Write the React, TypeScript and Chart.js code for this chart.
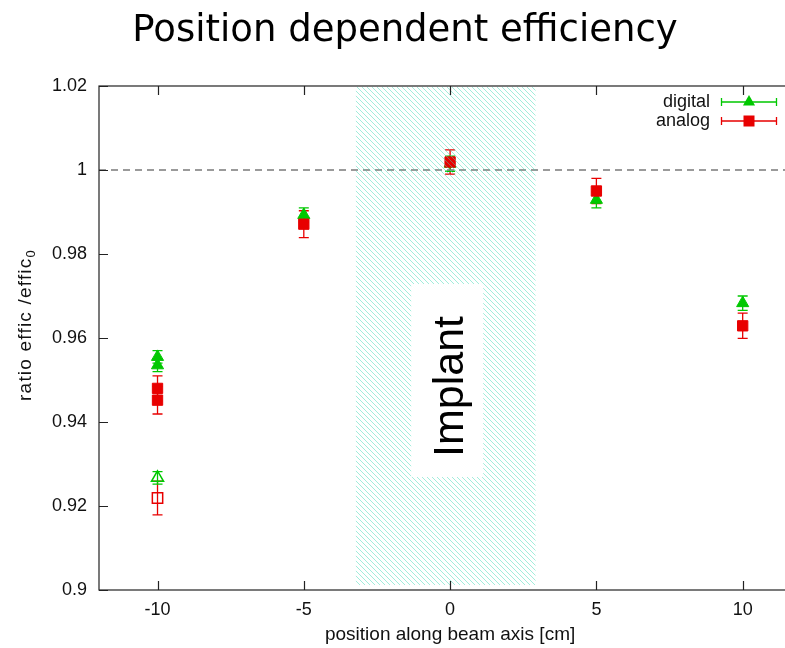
import React, { useEffect, useRef } from 'react';
import { Chart, registerables } from 'chart.js';

Chart.register(...registerables);

// ---- data ----
const xTickValues = [-10, -5, 0, 5, 10];
const yTickValues = [0.9, 0.92, 0.94, 0.96, 0.98, 1.0, 1.02];
const yTickLabels = ['0.9', '0.92', '0.94', '0.96', '0.98', '1', '1.02'];

const digitalX = [-10, -10, -5, 0, 5, 10];
const digitalY = [0.9555, 0.9535, 0.9893, 1.0015, 0.9929, 0.9683];
const digitalErr = [0.0015, 0.0015, 0.0017, 0.0018, 0.0019, 0.0017];

const digitalOpenX = [-10];
const digitalOpenY = [0.9267];
const digitalOpenErr = [0.0015];

const analogX = [-10, -10, -5, 0, 5, 10];
const analogY = [0.948, 0.9452, 0.9871, 1.0019, 0.995, 0.9629];
const analogErr = [0.003, 0.0033, 0.0032, 0.0029, 0.003, 0.003];

const analogOpenX = [-10];
const analogOpenY = [0.9219];
const analogOpenErr = [0.004];

const referenceLevel = 1.0;
const implantFrom = -3.22;
const implantTo = 2.92;

const titleText = 'Position dependent efficiency';
const xTitle = 'position along beam axis [cm]';
const yTitleMain = 'ratio effic /effic';
const yTitleSub = '0';
const implantLabel = 'Implant';
const legendDigital = 'digital';
const legendAnalog = 'analog';

const RED = '#e80000';
const GREEN = '#00c800';
const SANS = '"Liberation Sans", Arial, Helvetica, sans-serif';

const pts = (xs: number[], ys: number[]) => xs.map((x, i) => ({ x, y: ys[i] }));

function makeHatch(): CanvasPattern | string {
  const c = document.createElement('canvas');
  c.width = 5;
  c.height = 5;
  const g = c.getContext('2d');
  if (!g) return 'rgba(60,210,170,0.3)';
  g.strokeStyle = 'rgba(60,218,180,0.48)';
  g.lineWidth = 1;
  g.beginPath();
  g.moveTo(-1, -1);
  g.lineTo(6, 6);
  g.moveTo(-1, 4);
  g.lineTo(1, 6);
  g.moveTo(4, -1);
  g.lineTo(6, 1);
  g.stroke();
  const p = g.createPattern(c, 'repeat');
  return p || 'rgba(60,210,170,0.3)';
}

function drawTriangle(ctx: CanvasRenderingContext2D, x: number, y: number, r: number) {
  ctx.beginPath();
  ctx.moveTo(x, y - r);
  ctx.lineTo(x + r * 0.866, y + r * 0.5);
  ctx.lineTo(x - r * 0.866, y + r * 0.5);
  ctx.closePath();
  ctx.fill();
}

const errorBarPlugin = {
  id: 'errorBars',
  beforeDatasetsDraw(chart: any) {
    const { ctx } = chart;
    const xs = chart.scales.x;
    const ys = chart.scales.y;
    const series = [
      { x: analogX, y: analogY, e: analogErr, c: RED },
      { x: analogOpenX, y: analogOpenY, e: analogOpenErr, c: RED },
      { x: digitalX, y: digitalY, e: digitalErr, c: GREEN },
      { x: digitalOpenX, y: digitalOpenY, e: digitalOpenErr, c: GREEN },
    ];
    ctx.save();
    ctx.lineWidth = 1.3;
    series.forEach((s) => {
      ctx.strokeStyle = s.c;
      s.x.forEach((xv, i) => {
        const px = xs.getPixelForValue(xv);
        const top = ys.getPixelForValue(s.y[i] + s.e[i]);
        const bot = ys.getPixelForValue(s.y[i] - s.e[i]);
        ctx.beginPath();
        ctx.moveTo(px, top);
        ctx.lineTo(px, bot);
        ctx.moveTo(px - 5, top);
        ctx.lineTo(px + 5, top);
        ctx.moveTo(px - 5, bot);
        ctx.lineTo(px + 5, bot);
        ctx.stroke();
      });
    });
    ctx.restore();
  },
};

const overlayPlugin = {
  id: 'overlay',
  afterDatasetsDraw(chart: any) {
    const { ctx, chartArea } = chart;
    const xs = chart.scales.x;
    const ys = chart.scales.y;
    ctx.save();

    // reference dashed line
    const y1 = ys.getPixelForValue(referenceLevel);
    ctx.strokeStyle = '#7a7a7a';
    ctx.lineWidth = 1.5;
    ctx.setLineDash([7, 5]);
    ctx.beginPath();
    ctx.moveTo(chartArea.left, y1);
    ctx.lineTo(chartArea.right, y1);
    ctx.stroke();
    ctx.setLineDash([]);

    // implant band (hatched)
    const bx0 = xs.getPixelForValue(implantFrom);
    const bx1 = xs.getPixelForValue(implantTo);
    const by0 = chartArea.top + 1;
    const by1 = chartArea.bottom - 5;
    ctx.fillStyle = makeHatch();
    ctx.fillRect(bx0, by0, bx1 - bx0, by1 - by0);

    // white label box
    const wx0 = xs.getPixelForValue(-1.33);
    const wx1 = xs.getPixelForValue(1.13);
    const wy0 = ys.getPixelForValue(0.97286);
    const wy1 = ys.getPixelForValue(0.9269);
    ctx.fillStyle = '#ffffff';
    ctx.fillRect(wx0, wy0, wx1 - wx0, wy1 - wy0);

    // implant label
    ctx.translate(wx0 + 52, (wy0 + wy1) / 2 + 6);
    ctx.rotate(-Math.PI / 2);
    ctx.fillStyle = '#000';
    ctx.font = `43px ${SANS}`;
    ctx.textAlign = 'center';
    ctx.textBaseline = 'alphabetic';
    ctx.fillText(implantLabel, 0, 0);
    ctx.restore();

    // frame and inward ticks
    ctx.save();
    ctx.strokeStyle = '#222';
    ctx.lineWidth = 1.2;
    ctx.strokeRect(chartArea.left, chartArea.top, chartArea.right - chartArea.left, chartArea.bottom - chartArea.top);
    ctx.beginPath();
    yTickValues.forEach((v) => {
      const py = Math.round(ys.getPixelForValue(v)) + 0.5;
      ctx.moveTo(chartArea.left, py);
      ctx.lineTo(chartArea.left + 9, py);
      ctx.moveTo(chartArea.right, py);
      ctx.lineTo(chartArea.right - 9, py);
    });
    xTickValues.forEach((v) => {
      const px = Math.round(xs.getPixelForValue(v)) + 0.5;
      ctx.moveTo(px, chartArea.bottom);
      ctx.lineTo(px, chartArea.bottom - 9);
      ctx.moveTo(px, chartArea.top);
      ctx.lineTo(px, chartArea.top + 9);
    });
    ctx.stroke();
    ctx.restore();
  },
  afterDraw(chart: any) {
    const { ctx } = chart;
    ctx.save();
    // main title
    ctx.fillStyle = '#000';
    ctx.font = `37px "DejaVu Sans", Verdana, sans-serif`;
    ctx.textAlign = 'center';
    ctx.textBaseline = 'alphabetic';
    ctx.fillText(titleText, 405, 41);

    // y title with subscript
    (ctx as any).letterSpacing = '1.2px';
    ctx.font = `19px ${SANS}`;
    const wMain = ctx.measureText(yTitleMain).width;
    ctx.font = `13px ${SANS}`;
    const wSub = ctx.measureText(yTitleSub).width;
    const total = wMain + wSub;
    ctx.translate(31, 325);
    ctx.rotate(-Math.PI / 2);
    ctx.textAlign = 'left';
    ctx.fillStyle = '#111';
    ctx.font = `19px ${SANS}`;
    ctx.fillText(yTitleMain, -total / 2, 0);
    ctx.font = `13px ${SANS}`;
    ctx.fillText(yTitleSub, -total / 2 + wMain, 4);
    (ctx as any).letterSpacing = '0px';
    ctx.restore();

    // legend
    ctx.save();
    ctx.font = `18px ${SANS}`;
    ctx.fillStyle = '#111';
    ctx.textAlign = 'right';
    ctx.textBaseline = 'middle';
    ctx.fillText(legendDigital, 710, 102);
    ctx.fillText(legendAnalog, 710, 121);
    const rows = [
      { y: 102, c: GREEN, tri: true },
      { y: 121, c: RED, tri: false },
    ];
    rows.forEach((r) => {
      ctx.strokeStyle = r.c;
      ctx.lineWidth = 1.3;
      ctx.beginPath();
      ctx.moveTo(721, r.y);
      ctx.lineTo(777, r.y);
      ctx.moveTo(721.5, r.y - 4);
      ctx.lineTo(721.5, r.y + 4);
      ctx.moveTo(776.5, r.y - 4);
      ctx.lineTo(776.5, r.y + 4);
      ctx.stroke();
      ctx.fillStyle = r.c;
      if (r.tri) {
        drawTriangle(ctx, 749, r.y, 7);
      } else {
        ctx.fillRect(743.5, r.y - 5.5, 11, 11);
      }
    });
    ctx.restore();
  },
};

export default function App() {
  const ref = useRef<HTMLCanvasElement | null>(null);

  useEffect(() => {
    document.body.style.margin = '0';
    if (!ref.current) return;
    const chart = new Chart(ref.current, {
      type: 'scatter',
      data: {
        datasets: [
          {
            label: 'analog',
            data: pts(analogX, analogY),
            pointStyle: 'rect',
            pointRadius: 7.3,
            backgroundColor: RED,
            borderColor: RED,
            borderWidth: 1,
          },
          {
            label: 'analog (open)',
            data: pts(analogOpenX, analogOpenY),
            pointStyle: 'rect',
            pointRadius: 7.3,
            backgroundColor: 'rgba(0,0,0,0)',
            borderColor: RED,
            borderWidth: 1.5,
          },
          {
            label: 'digital',
            data: pts(digitalX, digitalY),
            pointStyle: 'triangle',
            pointRadius: 7,
            backgroundColor: GREEN,
            borderColor: GREEN,
            borderWidth: 1,
          },
          {
            label: 'digital (open)',
            data: pts(digitalOpenX, digitalOpenY),
            pointStyle: 'triangle',
            pointRadius: 7,
            backgroundColor: 'rgba(0,0,0,0)',
            borderColor: GREEN,
            borderWidth: 1.5,
          },
        ],
      },
      options: {
        responsive: false,
        animation: false,
        events: [],
        layout: { padding: { top: 86, right: 1, left: 0, bottom: 0 } },
        plugins: {
          legend: { display: false },
          tooltip: { enabled: false },
          title: { display: false },
        },
        scales: {
          x: {
            type: 'linear',
            min: -12,
            max: 12,
            afterBuildTicks: (s: any) => {
              s.ticks = xTickValues.map((v) => ({ value: v }));
            },
            afterFit: (s: any) => {
              s.height = 58;
            },
            grid: { display: false, drawTicks: false },
            border: { display: false },
            ticks: {
              padding: 9,
              color: '#111',
              font: { family: SANS, size: 18 },
              callback: (v: any) => String(v),
            },
            title: {
              display: true,
              text: xTitle,
              color: '#111',
              font: { family: SANS, size: 19 },
              padding: { top: 0, bottom: 2 },
            },
          },
          y: {
            type: 'linear',
            min: 0.9,
            max: 1.02,
            afterBuildTicks: (s: any) => {
              s.ticks = yTickValues.map((v) => ({ value: v }));
            },
            afterFit: (s: any) => {
              s.width = 99;
            },
            grid: { display: false, drawTicks: false },
            border: { display: false },
            ticks: {
              padding: 12,
              color: '#111',
              font: { family: SANS, size: 18 },
              callback: (_v: any, i: number) => yTickLabels[i],
            },
          },
        },
      },
      plugins: [errorBarPlugin, overlayPlugin],
    } as any);
    return () => chart.destroy();
  }, []);

  return (
    <div style={{ width: 785, height: 648, overflow: 'hidden', position: 'relative', background: '#fff' }}>
      <canvas ref={ref} width={810} height={648} style={{ display: 'block' }} />
    </div>
  );
}
